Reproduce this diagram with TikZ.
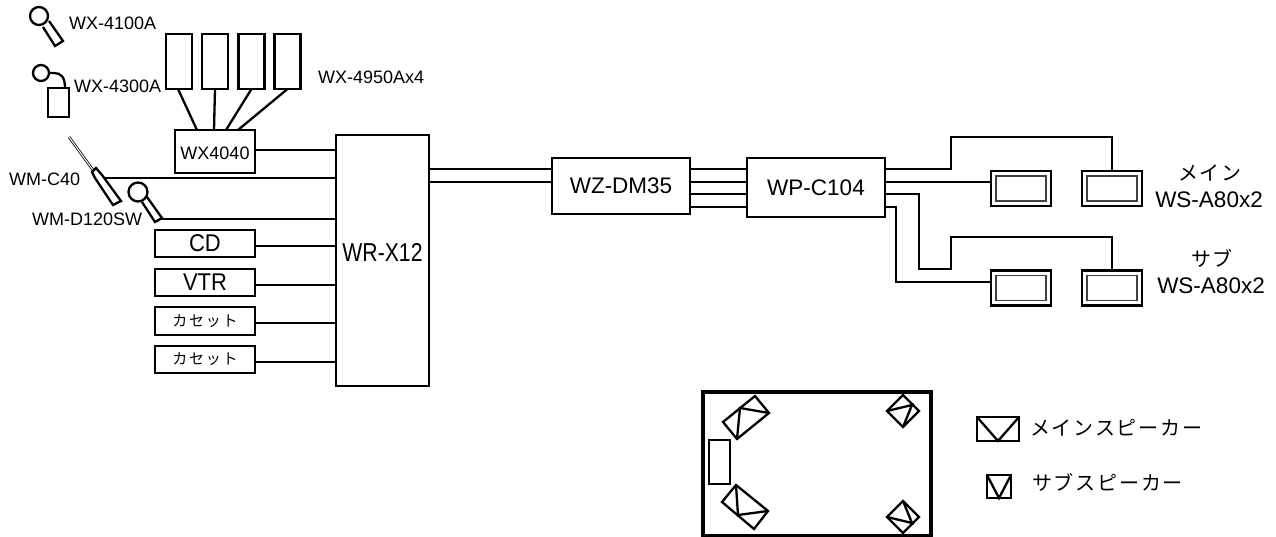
\documentclass[tikz,border=0pt]{standalone}
\usepackage{fontspec}
\setmainfont{Liberation Sans}
\newfontfamily\jpfont[LetterSpace=9]{Noto Sans CJK JP}
\newfontfamily\jpsmall[LetterSpace=12]{Noto Sans CJK JP}
\usepackage{tikz}
\usetikzlibrary{calc}

\begin{document}
\begin{tikzpicture}[
        x=1pt, y=-1pt,
        line width=2.3pt,
        line join=miter,
        wire/.style={line width=2.3pt},
        thin rim/.style={line width=1.2pt, draw=black!75},
        unit/.style={draw, line width=2.3pt, inner sep=0pt, outer sep=0pt, align=center},
        small label/.style={inner sep=0pt, font=\fontsize{18}{20}\selectfont},
        big label/.style={inner sep=0pt, font=\fontsize{22.5}{25}\selectfont},
        kana label/.style={inner sep=0pt, font=\fontsize{20}{24}\jpfont},
        mic head/.style={draw, circle, inner sep=0pt, outer sep=0pt, fill=white}
      ]

      \useasboundingbox (0,0) rectangle (1276,537);

      % Rack units
      \node[unit, minimum width=93pt, minimum height=251pt] (wrx) at (382.5,260.5) {};
      \node[inner sep=0pt, font=\fontsize{21.2}{25}\selectfont] (wrxname) at (382.5,252) {\scalebox{1}[1.22]{WR-X12}};
      \node[unit, big label, minimum width=138pt, minimum height=56pt] (wzdm) at (621,186) {WZ-DM35};
      \node[unit, big label, minimum width=138pt, minimum height=59pt] (wpc) at (816,187.5) {WP-C104};
      \node[unit, small label, minimum width=80pt, minimum height=43pt, text depth=0pt] (wxmix) at (215,151.5) {\raisebox{-4pt}{WX4040}};

      % Receivers on the mixer
      \foreach \i/\x in {1/179, 2/215, 3/251.5, 4/287.5} {
        \node[unit, minimum width=26pt, minimum height=55pt] (rx\i) at (\x,61.5) {};
      }
      \node[small label, anchor=west] (rxname) at (317,77) {WX-4950Ax4};
      \draw[wire] (rx1.south) ++(-1,0) -- ($(wxmix.north)+(-18,0)$);
      \draw[wire] (rx2.south) -- ($(wxmix.north)+(-1,0)$);
      \draw[wire] (rx3.south) -- ($(wxmix.north)+(11,0)$);
      \draw[wire] (rx4.south) -- ($(wxmix.north)+(23,0)$);

      % Line sources
      \node[unit, minimum width=100pt, minimum height=27pt, font=\fontsize{22}{25}\selectfont] (cd) at (205,243.5) {\scalebox{1}[1.1]{CD}};
      \node[unit, minimum width=100pt, minimum height=27pt, font=\fontsize{22}{25}\selectfont] (vtr) at (205,282.5) {\scalebox{1}[1.1]{VTR}};
      \node[unit, minimum width=100pt, minimum height=28pt, font=\fontsize{15}{18}\jpsmall] (tapea) at (205,321) {カセット};
      \node[unit, minimum width=100pt, minimum height=27pt, font=\fontsize{15}{18}\jpsmall] (tapeb) at (205,359.5) {カセット};

      \draw[wire] (wxmix.east |- 0,150) -- (wrx.west |- 0,150);
      \draw[wire] (cd.east |- 0,246) -- (wrx.west |- 0,246);
      \draw[wire] (vtr.east |- 0,285) -- (wrx.west |- 0,285);
      \draw[wire] (tapea.east |- 0,323) -- (wrx.west |- 0,323);
      \draw[wire] (tapeb.east |- 0,362) -- (wrx.west |- 0,362);

      % Microphones
      \node[mic head, minimum size=18pt] (mica) at (39,16) {};
      \draw (43,27) -- (55,46) -- (63,41) -- (49,21);
      \node[small label, anchor=west] (micaname) at (68,23) {WX-4100A};

      \node[mic head, minimum size=16pt] (micb) at (41,73) {};
      \node[unit, minimum width=21pt, minimum height=29pt] (micbbox) at (58.5,102.5) {};
      \draw[wire] (micb.east) -- (54,73) .. controls (61,73) and (65,77) .. (65,88);
      \node[small label, anchor=west] (micbname) at (73,86) {WX-4300A};

      \coordinate (micctip) at (105,178);
      \coordinate (micdtip) at (160,219);
      \draw[line width=0.8pt, double=white, double distance=1pt] (69,137) -- (93,170);
      \draw (92,172) -- (96,168) -- (102,175) -- (121,201) -- (113,205) -- (95,178) -- cycle;
      \node[small label, anchor=west] (miccname) at (8,179) {WM-C40};
      \draw (142,202) -- (155,222) -- (162,218) -- (147,197);
      \node[mic head, minimum size=19pt] (micd) at (138,192) {};
      \node[small label, anchor=west] (micdname) at (31,219) {WM-D120SW};

      \draw[wire] (micctip) -- (wrx.west |- micctip);
      \draw[wire] (micdtip) -- (wrx.west |- micdtip);

      % Signal path
      \foreach \y in {169,182} {
        \draw[wire] (wrx.east |- 0,\y) -- (wzdm.west |- 0,\y);
      }
      \foreach \y in {169,182,194,207} {
        \draw[wire] (wzdm.east |- 0,\y) -- (wpc.west |- 0,\y);
      }

      % Speakers
      \foreach \name/\x/\y in {mainL/1021/188.5, mainR/1112/188.5, subL/1021/288, subR/1112/288} {
        \node[unit, minimum width=60pt, minimum height=35pt] (\name) at (\x,\y) {};
        \node[draw, thin rim, inner sep=0pt, minimum width=50pt, minimum height=25pt] (\name rim) at (\x,\y) {};
      }
      \draw[wire] (wpc.east |- 0,169) -- (951,169) -- (951,137) -- (mainR.north |- 0,137) -- (mainR.north);
      \draw[wire] (wpc.east |- 0,182) -- (mainL.west |- 0,182);
      \draw[wire] (wpc.east |- 0,194) -- (919,194) -- (919,269) -- (951,269) -- (951,237) -- (subR.north |- 0,237) -- (subR.north);
      \draw[wire] (wpc.east |- 0,207) -- (896,207) -- (896,282) -- (subL.west |- 0,282);

      \node[kana label] (mainkana) at (1210,173) {メイン};
      \node[big label] (mainname) at (1209,200) {WS-A80x2};
      \node[kana label] (subkana) at (1212,258) {サブ};
      \node[big label] (subname) at (1211,286) {WS-A80x2};

      % Room plan
      \node[draw, line width=4pt, inner sep=0pt, outer sep=0pt, minimum width=228pt, minimum height=144pt] (room) at (817,464) {};
      \node[unit, minimum width=21pt, minimum height=44pt] (rack) at (719.5,462) {};

      \draw (723,422) -- (755,396) -- (769,413) -- (737,439) -- cycle;
      \draw (737,439) -- (740,408) -- (769,413);
      \draw (736,485) -- (768,511) -- (754,529) -- (722,502) -- cycle;
      \draw (736,485) -- (738,515) -- (768,511);
      \draw (903,395) -- (919,411) -- (903,427) -- (887,411) -- cycle;
      \draw (887,411) -- (912,405) -- (903,427);
      \draw (903,501) -- (919,517) -- (903,533) -- (887,517) -- cycle;
      \draw (887,517) -- (912,523) -- (903,501);

      % Key
      \node[unit, minimum width=42pt, minimum height=24pt] (keymain) at (998,429) {};
      \draw (keymain.north west) -- (keymain.south) -- (keymain.north east);
      \node[kana label, anchor=west] (keymainname) at (1029,428) {メインスピーカー};
      \node[unit, minimum width=24pt, minimum height=23pt] (keysub) at (999,486.5) {};
      \draw (keysub.north west) -- (keysub.south) -- (keysub.north east);
      \node[kana label, anchor=west] (keysubname) at (1031,482) {サブスピーカー};
    \end{tikzpicture}
\end{document}
